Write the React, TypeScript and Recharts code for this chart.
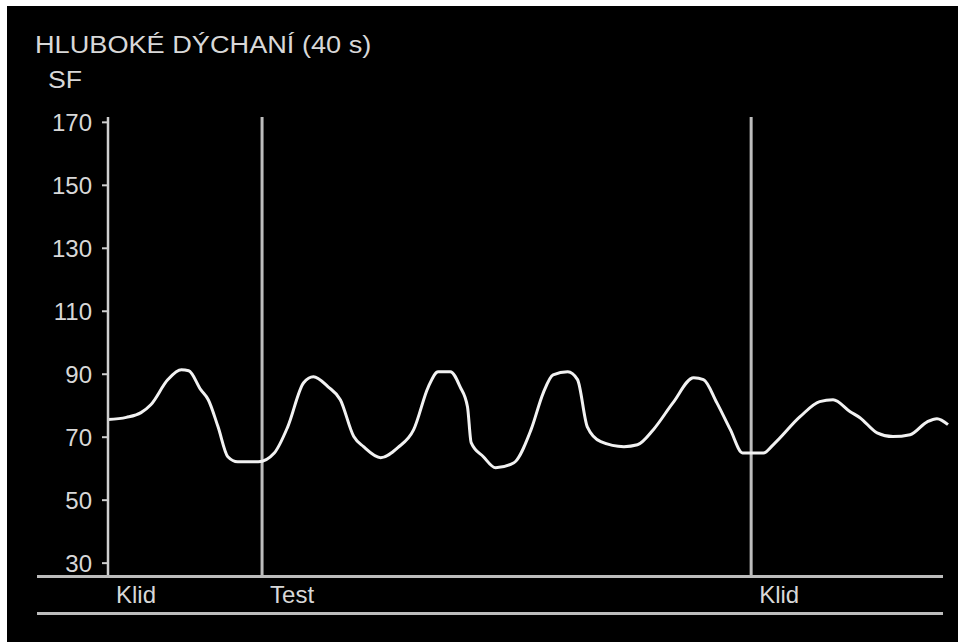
import { LineChart, Line, XAxis, YAxis, ReferenceLine } from "recharts";

// time in seconds relative to the start of the test, heart rate (SF)
const seconds = [
  -12.6, -11.1, -9.9, -9.1, -7.7, -6.6, -6.0, -5.0, -4.4, -3.6, -2.8, -2.0, -0.3,
  1.0, 2.1, 3.4, 4.2, 5.4, 6.4, 7.5, 8.3, 9.7, 11.1, 12.4, 13.6, 14.4, 15.4, 16.2,
  16.8, 17.1, 18.1, 19.1, 20.6, 22.0, 23.0, 23.8, 25.0, 25.8, 26.6, 27.7, 29.6,
  30.7, 32.0, 33.6, 35.3, 36.1, 37.2, 38.3, 39.3, 41.0, 41.8, 44.0, 45.6, 46.7,
  48.1, 48.9, 50.3, 51.6, 53.0, 54.4, 55.2, 56.1,
];
const heartRate = [
  75.6, 76.3, 77.8, 80.3, 88.3, 91.4, 91.1, 85, 81.9, 73.3, 63.8, 62.2, 62.2,
  65, 73.3, 87.3, 89.2, 86, 81.9, 70.2, 67, 63.5, 66.7, 72.4, 86, 90.8, 90.8, 86,
  79.7, 68.3, 63.8, 60.3, 61.9, 72.4, 84.1, 89.8, 90.8, 88.3, 73.3, 68.6, 67,
  67.6, 72.4, 80.9, 88.9, 88.3, 80.9, 72.4, 65, 65, 67.6, 76.5, 81.3, 81.9,
  78.1, 76.2, 71.4, 70.2, 70.8, 74.9, 75.9, 74,
];

const sfTicks = [30, 50, 70, 90, 110, 130, 150, 170];
const phaseStarts = [-12.6, 0, 40];
const phaseNames = ["Klid", "Test", "Klid"];

const data = seconds.map((t, i) => ({ t, sf: heartRate[i] }));

const font = "'Liberation Sans', Arial, sans-serif";
const textColor = "#d8d8d8";

const PhaseTick = (props: any) => {
  const { x, y, index } = props;
  return (
    <text x={x + 8} y={y + 26} fill={textColor} fontSize={24} fontFamily={font} textAnchor="start">
      {phaseNames[index]}
    </text>
  );
};

const App = () => {
  return (
    <div
      style={{
        position: "absolute",
        left: 7,
        top: 6,
        width: 951,
        height: 636,
        background: "#000",
        fontFamily: font,
        overflow: "hidden",
      }}
    >
      <div
        style={{
          position: "absolute",
          left: 28,
          top: 28,
          fontSize: 23,
          lineHeight: "23px",
          color: textColor,
          whiteSpace: "nowrap",
          transform: "scaleX(1.18)",
          transformOrigin: "left top",
        }}
      >
        HLUBOKÉ DÝCHANÍ (40 s)
      </div>
      <div
        style={{
          position: "absolute",
          left: 41,
          top: 63,
          fontSize: 23,
          lineHeight: "23px",
          color: textColor,
          transform: "scaleX(1.16)",
          transformOrigin: "left top",
        }}
      >
        SF
      </div>
      <LineChart
        width={951}
        height={636}
        data={data}
        margin={{ top: 111, right: 10, bottom: 25, left: 41 }}
      >
        <XAxis
          dataKey="t"
          type="number"
          domain={["dataMin", "dataMax"]}
          ticks={phaseStarts}
          interval={0}
          axisLine={false}
          tickLine={false}
          tickSize={0}
          tickMargin={0}
          height={40}
          tick={<PhaseTick />}
        />
        <YAxis
          type="number"
          domain={[25.6, 171.7]}
          ticks={sfTicks}
          interval={0}
          width={60}
          tickSize={6}
          tickMargin={10}
          axisLine={{ stroke: "#cfcfcf", strokeWidth: 2.5 }}
          tickLine={{ stroke: "#cfcfcf", strokeWidth: 2 }}
          tick={{ fill: textColor, fontSize: 24, fontFamily: font }}
        />
        {phaseStarts.slice(1).map((p) => (
          <ReferenceLine key={p} x={p} stroke="#bdbdbd" strokeWidth={3} />
        ))}
        <Line
          type="monotone"
          dataKey="sf"
          stroke="#f2f2f2"
          strokeWidth={3}
          dot={false}
          isAnimationActive={false}
        />
      </LineChart>
      <div
        style={{ position: "absolute", left: 30, top: 569, width: 906, height: 3, background: "#bcbcbc" }}
      />
      <div
        style={{ position: "absolute", left: 30, top: 606, width: 906, height: 3, background: "#bcbcbc" }}
      />
    </div>
  );
};

export default App;
